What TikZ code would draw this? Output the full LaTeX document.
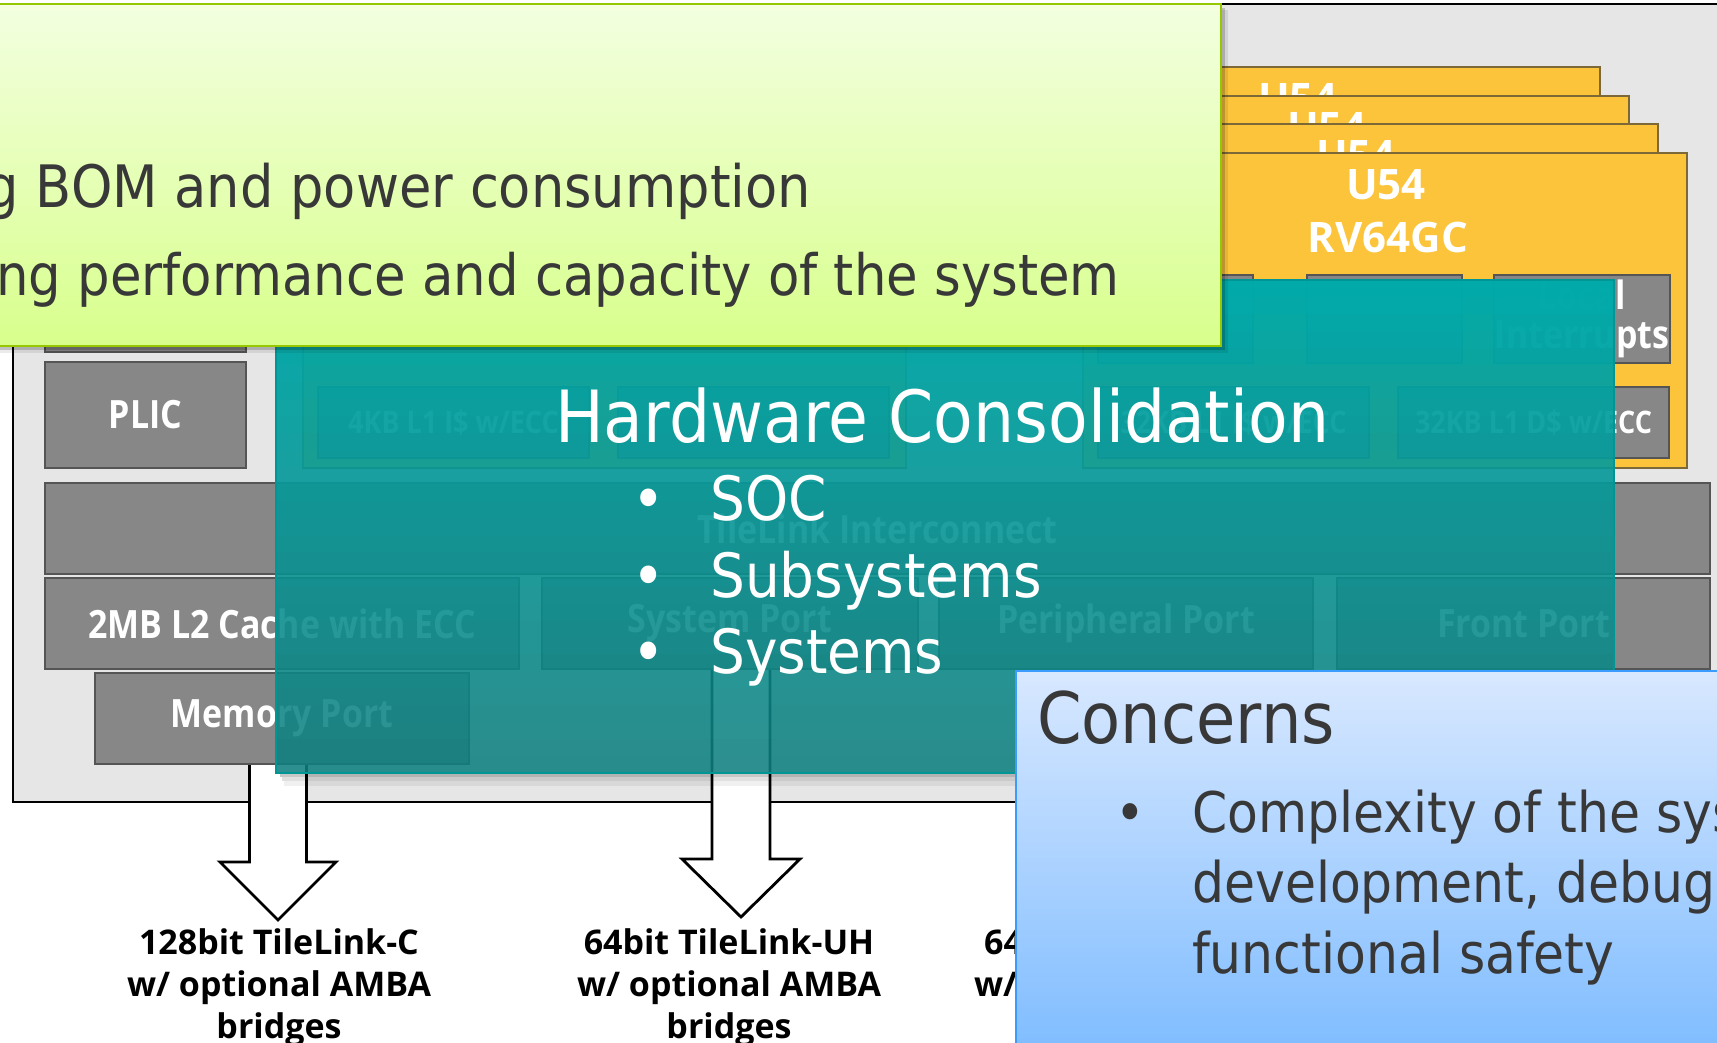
\documentclass[tikz,border=0pt]{standalone}
\usepackage{fontspec}
\usetikzlibrary{calc}
\newfontfamily\slidefont[FakeStretch=0.9]{DejaVu Sans}
\newfontfamily\blockfont{Open Sans}
\newfontfamily\blockcond[FakeStretch=0.87]{Open Sans}
\definecolor{chipgray}{RGB}{230,230,230}
\definecolor{blockgray}{RGB}{135,135,135}
\definecolor{blockedge}{RGB}{85,85,85}
\definecolor{coreyellow}{RGB}{251,196,59}
\definecolor{cardedge}{RGB}{125,105,55}
\definecolor{greentop}{RGB}{243,255,224}
\definecolor{greenbot}{RGB}{216,255,140}
\definecolor{greenedge}{RGB}{150,200,0}
\definecolor{tealtop}{RGB}{0,171,171}
\definecolor{tealbot}{RGB}{14,126,126}
\definecolor{tealedge}{RGB}{0,150,150}
\definecolor{bluetop}{RGB}{216,232,255}
\definecolor{bluebot}{RGB}{118,184,255}
\definecolor{blueedge}{RGB}{60,155,255}
\definecolor{slidegray}{RGB}{56,56,56}
\begin{document}
\begin{tikzpicture}[x=1pt,y=-1pt,
  box/.style={anchor=north west, inner sep=0pt, outer sep=0pt},
  grayblock/.style={box, fill=blockgray, draw=blockedge, line width=1.2pt, text=white, align=center,
    font={\blockcond\bfseries\fontsize{39}{39}\selectfont}},
  smallblock/.style={grayblock, font={\blockcond\bfseries\fontsize{31}{35}\selectfont}},
  corecard/.style={box, fill=coreyellow, draw=cardedge, line width=1.2pt, minimum width=604pt, minimum height=315pt},
  corelabel/.style={inner sep=0pt, anchor=base, text=white, font={\blockfont\bfseries\fontsize{42}{50}\selectfont}},
  blockarrow/.style={fill=white, draw=black, line width=2.8pt, line join=miter},
  arrowlabel/.style={inner sep=0pt, anchor=north, align=center, font={\blockfont\bfseries\fontsize{34}{42}\selectfont}},
  slidetext/.style={inner sep=0pt, text=slidegray, font={\slidefont\fontsize{57}{68}\selectfont}},
  concerntext/.style={inner sep=0pt, anchor=base west, text=slidegray, font={\slidefont\fontsize{56}{68}\selectfont}},
  whitehead/.style={inner sep=0pt, text=white, font={\slidefont\fontsize{72}{86}\selectfont}},
  whitebullet/.style={inner sep=0pt, text=white, font={\slidefont\fontsize{61}{74}\selectfont}}
]
\useasboundingbox (0,0) rectangle (1717,1043);
\clip (0,0) rectangle (1717,1043);
\fill[white] (0,0) rectangle (1717,1043);

% chip outline
\node[box, fill=chipgray, draw=black, line width=2.8pt, minimum width=1747pt, minimum height=798pt] (chip) at (13,4) {};

% U54 stack
\node[corecard, minimum width=510pt] (card3) at (1090,67) {};
\node[corelabel] (card3lbl) at (1298,114) {U54};
\node[corecard, minimum width=539pt] (card2) at (1090,96) {};
\node[corelabel] (card2lbl) at (1327,143) {U54};
\node[corecard, minimum width=568pt] (card1) at (1090,124) {};
\node[corelabel] (card1lbl) at (1356,171) {U54};
\node[corecard] (card0) at (1083,153) {};
\node[corelabel] (card0lbl) at (1386,200) {U54};
\node[corelabel] (card0isa) at (1388,253) {RV64GC};
\node[grayblock, minimum width=155pt, minimum height=88pt] (ublk1) at (1098,275) {};
\node[grayblock, minimum width=155pt, minimum height=88pt] (ublk2) at (1307,275) {};
\node[grayblock, minimum width=176pt, minimum height=88pt] (lint) at (1494,275) {Local\\Interrupts};
\node[smallblock, minimum width=271pt, minimum height=71pt] (uicache) at (1098,387) {32KB L1 I\$ w/ECC};
\node[smallblock, minimum width=271pt, minimum height=71pt] (udcache) at (1398,387) {32KB L1 D\$ w/ECC};

% E51 card
\node[corecard, minimum width=603pt] (ecard) at (303,153) {};
\node[smallblock, minimum width=271pt, minimum height=71pt] (eicache) at (318,387) {4KB L1 I\$ w/ECC};
\node[smallblock, minimum width=271pt, minimum height=71pt] (eblk) at (618,387) {};

% left column and interconnect
\node[grayblock, minimum width=201pt, minimum height=102pt] (dbg) at (45,250) {};
\node[grayblock, minimum width=201pt, minimum height=106pt] (plic) at (45,362) {PLIC};
\node[grayblock, minimum width=1665pt, minimum height=91pt] (tl) at (45,483) {TileLink Interconnect};
\node[grayblock, minimum width=474pt, minimum height=91pt] (l2) at (45,578) {2MB L2 Cache with ECC};
\node[grayblock, minimum width=376pt, minimum height=91pt] (sport) at (542,578) {System Port};
\node[grayblock, minimum width=374pt, minimum height=91pt] (pport) at (939,578) {Peripheral Port};
\node[grayblock, minimum width=373pt, minimum height=91pt] (fport) at (1337,578) {Front Port};
\node[grayblock, minimum width=374pt, minimum height=91pt] (mport) at (95,673) {Memory Port};

% block arrows
\coordinate (tip1) at (278,920);
\coordinate (tip2) at (741,917);
\draw[blockarrow] ($(mport.south -| tip1)+(-28.5,1)$) -- ++(0,97) -- ++(-29.5,0) -- (tip1)
  -- ($(mport.south -| tip1)+(58,98)$) -- ++(-29.5,0) -- ++(0,-97);
\draw[blockarrow] ($(sport.south -| tip2)+(-29,1)$) -- ++(0,189) -- ++(-30,0) -- (tip2)
  -- ($(sport.south -| tip2)+(59,190)$) -- ++(-30,0) -- ++(0,-189);
\node[arrowlabel] (lab1) at (279,928) {128bit TileLink-C\\w/ optional AMBA\\bridges};
\node[arrowlabel] (lab2) at (729,928) {64bit TileLink-UH\\w/ optional AMBA\\bridges};
\node[arrowlabel] (lab3) at (1126,928) {64bit TileLink-UL\\w/ optional AMBA\\bridges};

% teal overlay: graded colour and graded opacity, in pixel-aligned strips
\fill[black, opacity=0.22] (280,773) rectangle (1618,777);
\fill[black, opacity=0.12] (282,777) rectangle (1620,781);
\fill[black, opacity=0.06] (284,781) rectangle (1620,786);
\foreach \i in {0,...,28}{
  \pgfmathtruncatemacro\ya{280+17*\i}
  \pgfmathtruncatemacro\yb{297+17*\i}
  \pgfmathtruncatemacro\pct{round(100*(\i+0.5)/29)}
  \pgfmathsetmacro\op{0.87+0.125*(1-(\i+0.5)/29)^2}
  \fill[color=tealbot!\pct!tealtop, fill opacity=\op] (276,\ya) rectangle (1614,\yb);
}
\node[box, draw=tealedge, line width=1.5pt, minimum width=1338pt, minimum height=493pt] (hwbox) at (276,280) {};
\node[whitehead, anchor=base west] (hwtitle) at (555,442) {Hardware Consolidation};
\node[whitebullet, anchor=base] (hwb1) at (649,520) {•};
\node[whitebullet, anchor=base west] (hwsoc) at (710,520) {SOC};
\node[whitebullet, anchor=base] (hwb2) at (649,597) {•};
\node[whitebullet, anchor=base west] (hwsub) at (710,597) {Subsystems};
\node[whitebullet, anchor=base] (hwb3) at (649,673) {•};
\node[whitebullet, anchor=base west] (hwsys) at (710,673) {Systems};

% green benefits box
\fill[black, opacity=0.18] (-60,8) rectangle (1225,350);
\fill[black, opacity=0.08] (-60,10) rectangle (1228,353);
\node[box, top color=greentop, bottom color=greenbot, draw=greenedge, line width=2.5pt,
  minimum width=1281pt, minimum height=342pt] (benefits) at (-60,4) {};
\node[slidetext, anchor=base east, font={\slidefont\fontsize{58.5}{68}\selectfont}] (ben1) at (811,208) {Reducing BOM and power consumption};
\node[slidetext, anchor=base east] (ben2) at (1120,295) {Increasing performance and capacity of the system};

% blue concerns box
\node[box, top color=bluetop, bottom color=bluebot, draw=blueedge, line width=2pt,
  minimum width=760pt, minimum height=420pt] (concbox) at (1016,671) {};
\node[inner sep=0pt, anchor=base west, text=slidegray, font={\slidefont\fontsize{71}{84}\selectfont}] (conctitle) at (1037,743) {Concerns};
\node[concerntext, anchor=base] (concb) at (1130,832) {•};
\node[concerntext] (conc1) at (1192,832) {Complexity of the system};
\node[concerntext] (conc2) at (1192,902) {development, debugging and};
\node[concerntext] (conc3) at (1192,973) {functional safety};
\end{tikzpicture}
\end{document}
